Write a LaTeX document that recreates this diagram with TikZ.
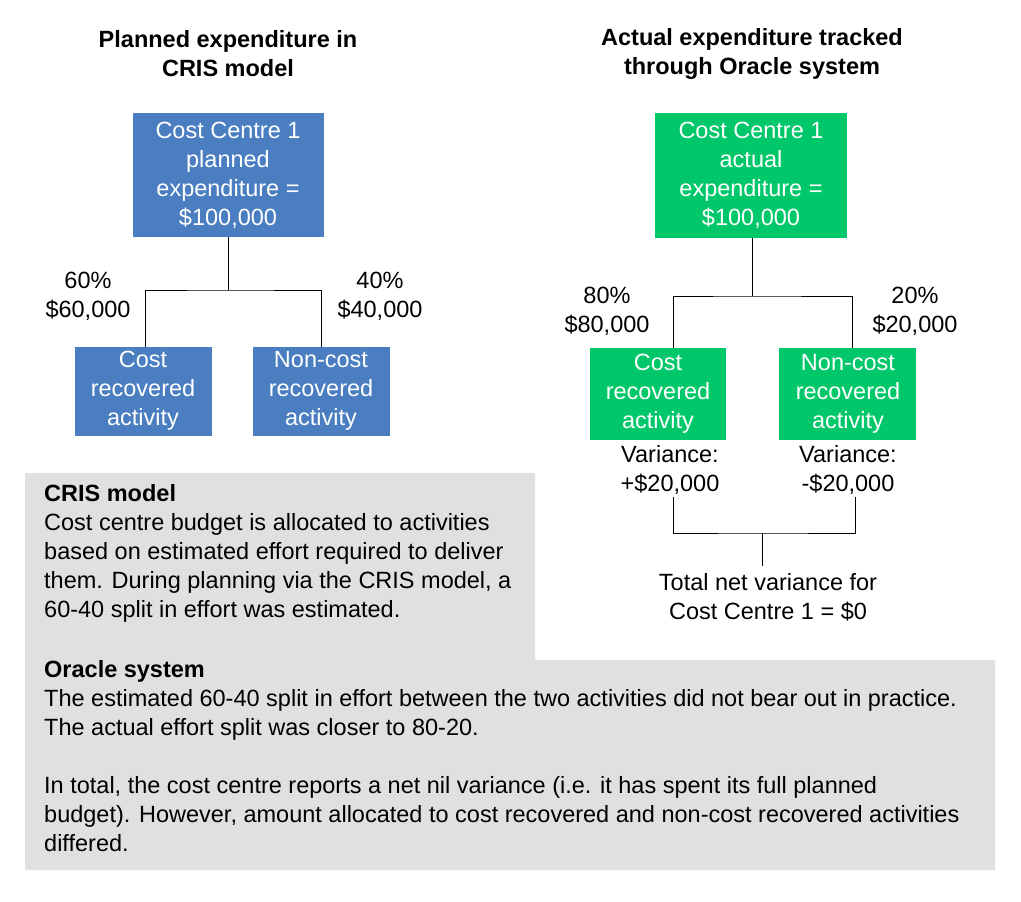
\documentclass[tikz,border=0pt]{standalone}
\usepackage{fontspec}
\setmainfont{Liberation Sans}
\usetikzlibrary{positioning}
\definecolor{plannedblue}{RGB}{74,126,193}
\definecolor{actualgreen}{RGB}{0,200,106}
\definecolor{notegray}{RGB}{224,224,224}

\begin{document}
\begin{tikzpicture}[
    x=1pt, y=-1pt,
    every node/.style={font=\fontsize{23.5}{29}\selectfont, inner sep=0pt},
    box/.style={minimum width=#1, align=center, text=white},
    title/.style={font=\fontsize{23.5}{29}\selectfont\bfseries, align=center},
    lbl/.style={align=center},
    link/.style={thick}
]
    \useasboundingbox (0,0) rectangle (1021,902);
    % Notes background
    \fill[notegray] (25,473) -- (535,473) -- (535,660) -- (995,660) -- (995,870) -- (25,870) -- cycle;

    % Titles
    \node[title] (ptitle) at (228,54) {Planned expenditure in\\CRIS model};
    \node[title] (atitle) at (752,54) {Actual expenditure tracked\\through Oracle system};

    % Planned tree
    \fill[plannedblue] (133,113) rectangle (324,237);
    \node[box=190, lbl] (cc1p) at (228,175) {Cost Centre 1\\planned\\expenditure =\\\$100,000};
    \fill[plannedblue] (75,347) rectangle (212,436);
    \node[box=137] (pcost) at (143,391) {Cost\\recovered\\activity};
    \fill[plannedblue] (253,347) rectangle (390,436);
    \node[box=137] (pnon) at (321,391) {Non-cost\\recovered\\activity};
    \coordinate (pj) at (228,290);
    \draw[link] (228,237) -- (pj);
    \draw[link] (145,347) |- (pj) -| (321,347);
    \node[lbl] (p60) at (88,296) {60\%\\\$60,000};
    \node[lbl] (p40) at (380,296) {40\%\\\$40,000};

    % Actual tree
    \fill[actualgreen] (655,113) rectangle (847,238);
    \node[box=190] (cc1a) at (751,175) {Cost Centre 1\\actual\\expenditure =\\\$100,000};
    \fill[actualgreen] (590,348) rectangle (726,440);
    \node[box=136] (acost) at (658,394) {Cost\\recovered\\activity};
    \fill[actualgreen] (779,348) rectangle (916,440);
    \node[box=137] (anon) at (848,394) {Non-cost\\recovered\\activity};
    \coordinate (aj) at (752,296);
    \draw[link] (752,238) -- (aj);
    \draw[link] (673,348) |- (aj) -| (852,348);
    \node[lbl] (a80) at (607,311) {80\%\\\$80,000};
    \node[lbl] (a20) at (915,311) {20\%\\\$20,000};

    % Variances
    \node[lbl] (vcost) at (670,470) {Variance:\\+\$20,000};
    \node[lbl] (vnon) at (848,470) {Variance:\\-\$20,000};
    \coordinate (vj) at (762,533);
    \draw[link] (673,497) |- (vj) -| (855,497);
    \draw[link] (vj) -- (762,566);
    \node[lbl] (total) at (768,597) {Total net variance for\\Cost Centre 1 = \$0};

    % Notes
    \node[anchor=north west, align=left] (crisnote) at (44,484) {\textbf{CRIS model}\\Cost centre budget is allocated to activities\\based on estimated effort required to deliver\\them. During planning via the CRIS model, a\\60-40 split in effort was estimated.};
    \node[anchor=north west, align=left] (oranote) at (44,660) {\textbf{Oracle system}\\The estimated 60-40 split in effort between the two activities did not bear out in practice.\\The actual effort split was closer to 80-20.\\[29pt]In total, the cost centre reports a net nil variance (i.e. it has spent its full planned\\budget). However, amount allocated to cost recovered and non-cost recovered activities\\differed.};
\end{tikzpicture}
\end{document}
